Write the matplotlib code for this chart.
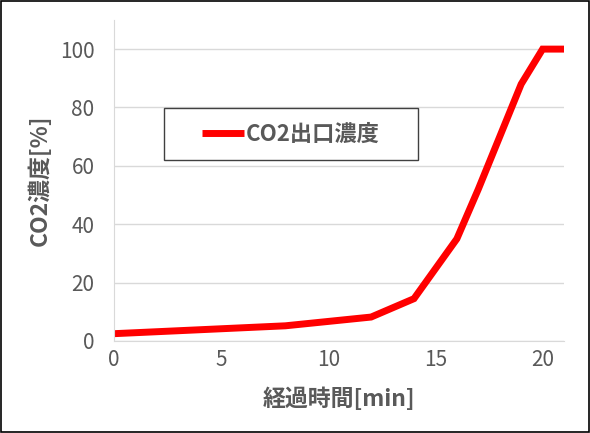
import matplotlib.pyplot as plt
from matplotlib.patches import Rectangle

plt.rcParams['font.family'] = ['Noto Sans CJK JP', 'DejaVu Sans']

time_min = [0, 8, 12, 14, 16, 17, 18, 19, 20, 21]
co2 = [2.5, 5.2, 8.2, 14.5, 35, 52, 70, 88, 100, 100]

series_label = 'CO2出口濃度'
xlabel = '経過時間[min]'
ylabel = 'CO2濃度[%]'

grey = '#595959'

fig = plt.figure(figsize=(5.9, 4.33), dpi=100)
ax = fig.add_axes([0.193, 0.2125, 0.763, 0.7415])

ax.plot(time_min, co2, color='#ff0000', linewidth=5, label=series_label,
        solid_joinstyle='miter', solid_capstyle='butt')

ax.set_xlim(0, 21)
ax.set_ylim(0, 110)
ax.set_xticks([0, 5, 10, 15, 20])
ax.set_yticks([0, 20, 40, 60, 80, 100])
ax.yaxis.grid(True, color='#d9d9d9', linewidth=1)
ax.set_axisbelow(True)
for s in ['top', 'right']:
    ax.spines[s].set_visible(False)
ax.spines['left'].set_color('#d9d9d9')
ax.spines['bottom'].set_color('#d9d9d9')
ax.tick_params(length=0, labelsize=15, labelcolor=grey)
ax.tick_params(axis='y', pad=14)
ax.tick_params(axis='x', pad=6)

ax.set_xlabel(xlabel, fontsize=16.5, fontweight='bold', color=grey, labelpad=12)
ax.set_ylabel(ylabel, fontsize=16.5, fontweight='bold', color=grey, labelpad=6)

# legend frame drawn separately (Excel-style wide box)
fig.patches.append(Rectangle((0.278, 0.630), 0.430, 0.120, transform=fig.transFigure,
                             fill=False, edgecolor='#404040', linewidth=1))
leg = ax.legend(loc='center', bbox_to_anchor=(0.493, 0.690), bbox_transform=fig.transFigure,
                frameon=False, fontsize=16, handlelength=1.9, handletextpad=0.1)
for t in leg.get_texts():
    t.set_fontweight('bold')
    t.set_color(grey)

fig.patches.append(Rectangle((0.002, 0.002), 0.996, 0.996, transform=fig.transFigure,
                             fill=False, edgecolor='black', linewidth=1.2))

fig.savefig('out.png', dpi=100)
